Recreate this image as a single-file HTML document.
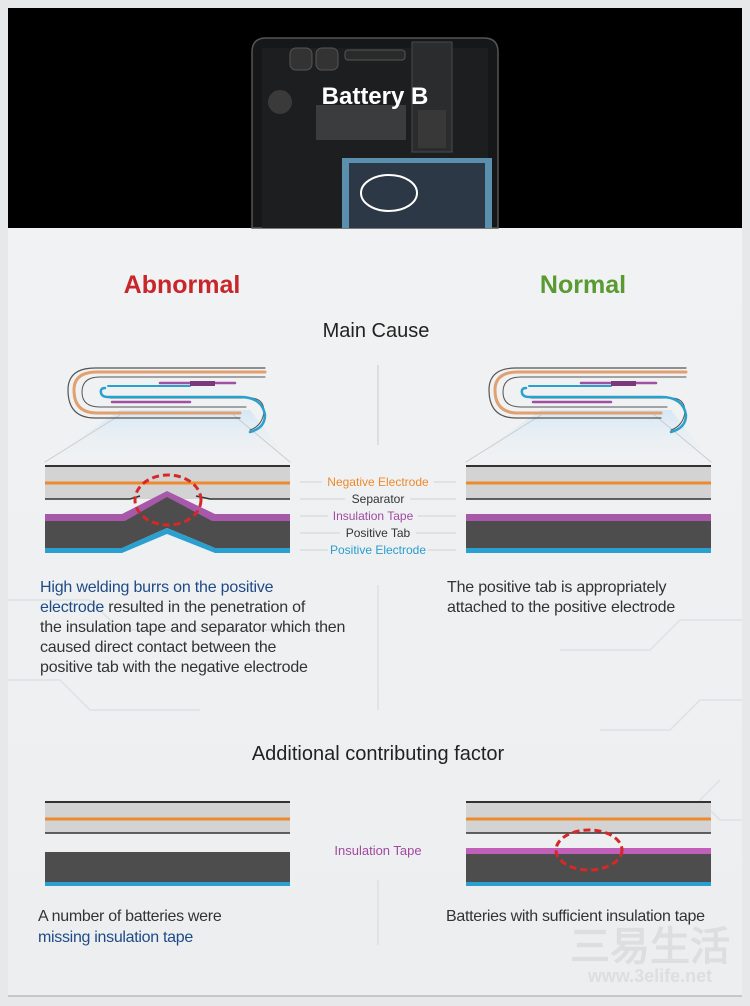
<!DOCTYPE html>
<html><head><meta charset="utf-8"><style>
html,body{margin:0;padding:0;background:#e9ebed;}
svg{display:block;}
text{font-family:"Liberation Sans",sans-serif;}
</style></head><body>
<svg width="750" height="1006" viewBox="0 0 750 1006" xmlns="http://www.w3.org/2000/svg">
<defs>
<linearGradient id="bg" x1="0" y1="0" x2="0" y2="1">
<stop offset="0" stop-color="#f1f2f3"/><stop offset="1" stop-color="#eceef0"/>
</linearGradient>
<linearGradient id="glow" x1="0" y1="0" x2="0" y2="1">
<stop offset="0" stop-color="#d3e6f4" stop-opacity="0.9"/><stop offset="1" stop-color="#eef3f7" stop-opacity="0"/>
</linearGradient>
</defs>
<rect width="750" height="1006" fill="#e6e8ea"/>
<rect x="8" y="228" width="734" height="768" fill="url(#bg)"/>
<line x1="8" y1="996" x2="742" y2="996" stroke="#b8babc" stroke-width="1.5"/>
<g stroke="#dde1e5" stroke-width="1.5" fill="none">
<path d="M8 600 L90 600 L120 630 L330 630"/>
<path d="M8 680 L60 680 L90 710 L200 710"/>
<path d="M742 620 L680 620 L650 650 L560 650"/>
<path d="M742 700 L700 700 L670 730 L600 730"/>
<path d="M742 820 L720 820 L700 800 L720 780"/>
</g>
<rect x="8" y="8" width="734" height="220" fill="#000"/>
<path d="M252 228 L252 52 Q252 38 266 38 L484 38 Q498 38 498 52 L498 228 Z" fill="#161718" stroke="#555" stroke-width="1.5"/>
<rect x="262" y="48" width="226" height="180" fill="#1d1e20"/>
<rect x="290" y="48" width="22" height="22" rx="6" fill="#333" stroke="#555"/>
<rect x="316" y="48" width="22" height="22" rx="6" fill="#333" stroke="#555"/>
<rect x="345" y="50" width="60" height="10" rx="3" fill="#2a2a2a" stroke="#555"/>
<rect x="412" y="42" width="40" height="110" fill="#2b2c2e" stroke="#4a4a4a"/>
<rect x="418" y="110" width="28" height="38" fill="#383838"/>
<circle cx="280" cy="102" r="12" fill="#3a3a3a"/>
<rect x="316" y="105" width="90" height="35" fill="#3b3c3e"/>
<rect x="342" y="158" width="150" height="70" fill="#5a8fae"/>
<rect x="349" y="163" width="136" height="65" fill="#2c3846"/>
<ellipse cx="389" cy="193" rx="28" ry="18" fill="none" stroke="#fff" stroke-width="2"/>
<text x="375" y="104" fill="#fff" font-size="24" font-weight="bold" text-anchor="middle">Battery B</text>
<text x="182" y="293" fill="#c7262b" font-size="25" font-weight="bold" text-anchor="middle">Abnormal</text>
<text x="583" y="293" fill="#5a9a32" font-size="25" font-weight="bold" text-anchor="middle">Normal</text>
<text x="376" y="337" fill="#222" font-size="20" text-anchor="middle">Main Cause</text>
<line x1="378" y1="365" x2="378" y2="445" stroke="#c9cbcd" stroke-width="1"/>
<line x1="378" y1="585" x2="378" y2="710" stroke="#d5d7d9" stroke-width="1"/>
<line x1="378" y1="880" x2="378" y2="945" stroke="#d5d7d9" stroke-width="1"/>
<g id="coil" fill="none" stroke-linecap="round">
<polygon points="120,410 250,410 290,462 45,462" fill="url(#glow)" stroke="none"/>
<line x1="120" y1="415" x2="45" y2="462" stroke="#ccc"/>
<line x1="230" y1="412" x2="290" y2="462" stroke="#ccc"/>
<path d="M265 368 L95 368 Q68 368 68 390 Q68 418 95 418 L240 418" stroke="#555" stroke-width="1.2"/>
<path d="M265 372 L97 372 Q74 372 74 390 Q74 413 97 413 L240 413" stroke="#e0a070" stroke-width="3"/>
<path d="M265 377 L100 377 Q82 377 82 392 Q82 407 100 407 L246 407" stroke="#555" stroke-width="1"/>
<path d="M110 398 L250 398 Q264 398 264 412 Q262 426 250 430" stroke="#555" stroke-width="1"/>
<path d="M105 388 Q100 388 101 393 Q102 397 108 397 L240 397 Q262 397 265 415 Q265 428 250 432" stroke="#2aa0cc" stroke-width="2.5"/>
<path d="M108 386 L190 386" stroke="#2aa0cc" stroke-width="2"/>
<path d="M160 383 L235 383" stroke="#a050a0" stroke-width="2.5"/>
<path d="M112 402 L190 402" stroke="#a050a0" stroke-width="2.5"/>
<rect x="190" y="381" width="25" height="5" fill="#7a3a7a" stroke="none"/>
</g>
<use href="#coil" x="421"/>
<rect x="45" y="466" width="245" height="33" fill="#d3d3d3"/>
<line x1="45" y1="466" x2="290" y2="466" stroke="#333" stroke-width="2"/>
<line x1="45" y1="483" x2="290" y2="483" stroke="#ee8a2e" stroke-width="3"/>
<path d="M45 499 L130 499 L140 496" stroke="#333" stroke-width="1.5" fill="none"/>
<path d="M196 496 L210 499 L290 499" stroke="#333" stroke-width="1.5" fill="none"/>
<path d="M45 514 L122 514 L167 491 L215 514 L290 514 L290 548 L215 548 L167 525 L122 548 L45 548 Z" fill="#a858a8"/>
<path d="M45 521 L125 521 L167 497 L212 521 L290 521 L290 548 L215 548 L167 528 L122 548 L45 548 Z" fill="#4d4d4d"/>
<path d="M45 548 L122 548 L167 528 L215 548 L290 548 L290 553 L215 553 L167 534 L122 553 L45 553 Z" fill="#2aa0d0"/>
<ellipse cx="168" cy="500" rx="33" ry="25" fill="none" stroke="#d62828" stroke-width="3" stroke-dasharray="7,4"/>
<rect x="466" y="466" width="245" height="33" fill="#d3d3d3"/>
<line x1="466" y1="466" x2="711" y2="466" stroke="#333" stroke-width="2"/>
<line x1="466" y1="483" x2="711" y2="483" stroke="#ee8a2e" stroke-width="3"/>
<line x1="466" y1="499" x2="711" y2="499" stroke="#333" stroke-width="1.5"/>
<rect x="466" y="514" width="245" height="7" fill="#a858a8"/>
<rect x="466" y="521" width="245" height="27" fill="#4d4d4d"/>
<rect x="466" y="548" width="245" height="5" fill="#2aa0d0"/>
<g stroke="#d0d2d4" stroke-width="1">
<line x1="300" y1="482" x2="322" y2="482"/><line x1="434" y1="482" x2="456" y2="482"/>
<line x1="300" y1="499" x2="345" y2="499"/><line x1="410" y1="499" x2="456" y2="499"/>
<line x1="300" y1="516" x2="328" y2="516"/><line x1="418" y1="516" x2="456" y2="516"/>
<line x1="300" y1="533" x2="340" y2="533"/><line x1="416" y1="533" x2="456" y2="533"/>
<line x1="300" y1="550" x2="328" y2="550"/><line x1="428" y1="550" x2="456" y2="550"/>
</g>
<g font-size="12" text-anchor="middle">
<text x="378" y="486" fill="#ee8a2e">Negative Electrode</text>
<text x="378" y="503" fill="#333">Separator</text>
<text x="373" y="520" fill="#a04aa0">Insulation Tape</text>
<text x="378" y="537" fill="#333">Positive Tab</text>
<text x="378" y="554" fill="#2a9ccc">Positive Electrode</text>
</g>
<g font-size="16" fill="#333" letter-spacing="-0.2">
<text x="40" y="592"><tspan fill="#1e4a86">High welding burrs on the positive</tspan></text>
<text x="40" y="612"><tspan fill="#1e4a86">electrode</tspan> resulted in the penetration of</text>
<text x="40" y="632">the insulation tape and separator which then</text>
<text x="40" y="652">caused direct contact between the</text>
<text x="40" y="672">positive tab with the negative electrode</text>
<text x="447" y="592">The positive tab is appropriately</text>
<text x="447" y="612">attached to the positive electrode</text>
</g>
<text x="378" y="760" fill="#222" font-size="20" text-anchor="middle">Additional contributing factor</text>
<rect x="45" y="802" width="245" height="31" fill="#d3d3d3"/>
<line x1="45" y1="802" x2="290" y2="802" stroke="#333" stroke-width="2"/>
<line x1="45" y1="819" x2="290" y2="819" stroke="#ee8a2e" stroke-width="3"/>
<line x1="45" y1="833" x2="290" y2="833" stroke="#333" stroke-width="1.5"/>
<rect x="45" y="852" width="245" height="30" fill="#4d4d4d"/>
<rect x="45" y="882" width="245" height="4" fill="#2aa0d0"/>
<rect x="466" y="802" width="245" height="31" fill="#d3d3d3"/>
<line x1="466" y1="802" x2="711" y2="802" stroke="#333" stroke-width="2"/>
<line x1="466" y1="819" x2="711" y2="819" stroke="#ee8a2e" stroke-width="3"/>
<line x1="466" y1="833" x2="711" y2="833" stroke="#333" stroke-width="1.5"/>
<rect x="466" y="848" width="245" height="6" fill="#c060b8"/>
<rect x="466" y="854" width="245" height="28" fill="#4d4d4d"/>
<rect x="466" y="882" width="245" height="4" fill="#2aa0d0"/>
<ellipse cx="589" cy="850" rx="33" ry="20" fill="none" stroke="#d62828" stroke-width="3" stroke-dasharray="7,4"/>
<text x="378" y="855" fill="#a04aa0" font-size="13" text-anchor="middle">Insulation Tape</text>
<g font-size="16" fill="#333" letter-spacing="-0.3">
<text x="38" y="921">A number of batteries were</text>
<text x="38" y="942" fill="#1e4a86">missing insulation tape</text>
<text x="446" y="921">Batteries with sufficient insulation tape</text>
</g>
<text x="650" y="960" fill="#dcdee0" font-size="40" font-weight="bold" text-anchor="middle" font-family="Noto Sans CJK SC, sans-serif">三易生活</text>
<text x="650" y="982" fill="#dcdee0" font-size="18" font-weight="bold" text-anchor="middle">www.3elife.net</text>
</svg>
</body></html>
